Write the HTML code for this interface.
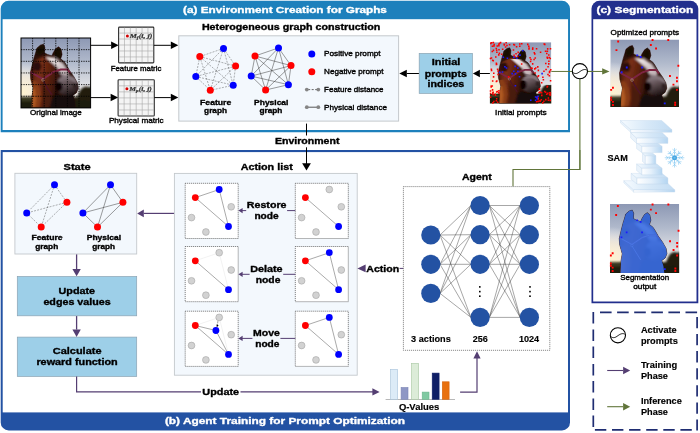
<!DOCTYPE html>
<html><head><meta charset="utf-8"><title>Figure</title>
<style>
html,body{margin:0;padding:0;background:#fff;}
body{width:700px;height:433px;overflow:hidden;}
svg{display:block;font-family:"Liberation Sans",sans-serif;}
.sf{font-family:"Liberation Serif",serif;}
</style></head><body>
<svg width="700" height="433" viewBox="0 0 700 433">
<defs>
<linearGradient id="sky" x1="0" y1="0" x2="0" y2="1">
<stop offset="0" stop-color="#8d98b4"/><stop offset="0.35" stop-color="#b1bacc"/><stop offset="0.65" stop-color="#dcdde2"/><stop offset="0.85" stop-color="#efe9e2"/>
</linearGradient>
<radialGradient id="sun" cx="0.02" cy="0.78" r="0.45">
<stop offset="0" stop-color="#fff3cf" stop-opacity="1"/><stop offset="0.5" stop-color="#fbeed8" stop-opacity="0.7"/><stop offset="1" stop-color="#fff" stop-opacity="0"/>
</radialGradient>
<linearGradient id="hb" x1="0" y1="0" x2="1" y2="0.3">
<stop offset="0" stop-color="#42160a"/><stop offset="0.32" stop-color="#7a3015"/><stop offset="0.62" stop-color="#581f0e"/><stop offset="1" stop-color="#220e09"/>
</linearGradient>
<linearGradient id="mz" x1="0.2" y1="0" x2="0.6" y2="1">
<stop offset="0" stop-color="#90828a"/><stop offset="0.45" stop-color="#605054"/><stop offset="1" stop-color="#1c1212"/>
</linearGradient>
<linearGradient id="bl" x1="0" y1="0" x2="1" y2="1">
<stop offset="0" stop-color="#f4eeee"/><stop offset="1" stop-color="#b9a9ad"/>
</linearGradient>
<linearGradient id="sam" x1="0" y1="0" x2="1" y2="0">
<stop offset="0" stop-color="#ffffff"/><stop offset="0.45" stop-color="#e4f0fb"/><stop offset="1" stop-color="#b4d5f1"/>
</linearGradient>
<linearGradient id="samt" x1="0" y1="0" x2="1" y2="0">
<stop offset="0" stop-color="#f6fbff"/><stop offset="0.5" stop-color="#d8e9f8"/><stop offset="1" stop-color="#c2dcf3"/>
</linearGradient>
<filter id="b1" x="-5%" y="-5%" width="110%" height="110%"><feGaussianBlur stdDeviation="1.3"/></filter>
<path id="hsil" d="M15.2,100 L16,82 L17.7,72 L14,59 L13.4,50 L16,38.8 L19,27.3 L21,21 L22.8,14.5 L27.8,10.2 L32.2,8.9 L34.2,13.3 L33.7,21 L38,23.5 L44.3,25.5 L46.3,21 L49.9,15.3 L53.9,12.5 L57.5,15.8 L59,23.5 L57,29.8 L62,33.7 L64.6,37.5 L69.6,46.4 L76,55.4 L81,64.3 L82.3,72 L79.7,78.3 L74.7,82 L77.2,89.8 L78.5,100 Z"/>
<clipPath id="hclip"><use href="#hsil"/></clipPath>
<clipPath id="cp"><rect x="0" y="0" width="100" height="100"/></clipPath>

<symbol id="horse" viewBox="0 0 100 100" preserveAspectRatio="none">
<g clip-path="url(#cp)">
<rect width="100" height="100" fill="url(#sky)"/>
<rect width="100" height="100" fill="url(#sun)"/>
<g filter="url(#b1)">
<path d="M-3,84.5 L20,84 L40,85 L60,85.5 L81,84 L84.5,76 L88,71.5 L93,69.5 L98,70.5 L103,69 L103,103 L-3,103 Z" fill="#211d10"/>
<path d="M-3,91 L103,90 L103,103 L-3,103Z" fill="#1a1c0c"/>
<path d="M-3,86 L16,85.5 L16,90 L-3,90Z" fill="#3a3a20"/>
</g>
<use href="#hsil" fill="#2c110a" stroke="#2c110a" stroke-width="0.8" stroke-linejoin="round"/>
<g clip-path="url(#hclip)"><g filter="url(#b1)">
<path d="M20,32 L36,25 L47,28 L56,38 L62,50 L58,60 L50,72 L46,84 L36,92 L30,100 L17,100 L18,72 L15,56 L16,42 Z" fill="url(#hb)"/>
<path d="M14,62 L21,61 L27,72 L29,86 L26,100 L14,100 L15.5,74 Z" fill="#8a3c14"/>
<path d="M14,72 L19.5,72 L22,86 L20,100 L14,100 Z" fill="#b05a24"/>
<path d="M21,22 L23,15 L28,10.5 L32,9.5 L33.5,14 L33,21 L27,25Z" fill="#170906"/>
<path d="M46.5,23 L50,15.8 L54,13 L57,16 L58.5,23.5 L56.5,30 L50,28Z" fill="#170906"/>
<path d="M18,36 L26,33 L30,40 L27,48 L17,46Z" fill="#2a100a"/>
<path d="M35.4,27.3 L48.1,28 L60,36.2 L69.1,47.7 L67.6,54.6 L57,51.5 L52.4,42.6 L43,34.2 Z" fill="url(#bl)"/>
<path d="M57,30 L62,34 L65,38 L70,47 L66,45 L60,36Z" fill="#3a2420"/>
<ellipse cx="67" cy="68" rx="15.5" ry="15" fill="url(#mz)"/>
<path d="M57,51 L68,54 L76,56 L82,66 L70,59 L60,59Z" fill="#84767c"/>
<ellipse cx="54.5" cy="69.5" rx="5.2" ry="6.8" fill="#080505"/>
<ellipse cx="77.5" cy="68" rx="2.6" ry="4" fill="#2a1e1e"/>
<path d="M50,80 L62,83.5 L76,81 L80,77 L80,100 L42,100 L44,88Z" fill="#150a07"/>
<path d="M30,62 L40,80 L44,88 L40,100 L30,100 L31,84Z" fill="#4a1c0e"/>
</g>
<path d="M13,48.5 L31.6,58.7 L46.8,48.5 L57,45.2 L67.1,45.2 L70.9,50.3" fill="none" stroke="#7d2442" stroke-width="2.9"/>
<path d="M31.6,60.5 L38,72 L44.3,81" fill="none" stroke="#4c1428" stroke-width="2"/>
</g>
<circle cx="31.6" cy="60" r="1.9" fill="none" stroke="#b8a888" stroke-width="0.8"/>
</g>
</symbol>
<symbol id="act" viewBox="-10 -10 20 20" overflow="visible">
<circle cx="0" cy="0" r="7.6" fill="#fff" stroke="#000" stroke-width="1.1"/>
<path d="M-7.5,1 C-4.5,3.4 -2.5,2.2 0,0.4 C2.5,-1.4 5,-2.6 7.5,-0.8" fill="none" stroke="#000" stroke-width="0.9"/>
</symbol>
</defs>
<rect width="700" height="433" fill="#fff"/>

<path d="M0.7,132.2 V8.8 A8,8 0 0 1 8.7,0.8 H562 A8,8 0 0 1 570,8.8 V132.2 Z" fill="#1d80bc"/>
<rect x="2.6" y="19.2" width="565.45" height="110.8" fill="#fff"/>
<text x="183.1" y="12.9" font-size="9.6" font-weight="700" fill="#fff" stroke="#fff" stroke-width="0.35" stroke-linejoin="round" textLength="203.8" lengthAdjust="spacingAndGlyphs" >(a) Environment Creation for Graphs</text>
<text x="201.9" y="30.4" font-size="9.2" font-weight="700" fill="#000" stroke="#000" stroke-width="0.35" stroke-linejoin="round" textLength="178.4" lengthAdjust="spacingAndGlyphs" >Heterogeneous graph construction</text>
<use href="#horse" x="21" y="38" width="69.6" height="69.9"/>
<path d="M32.60,38 V107.9 M21,49.65 H90.6 M44.20,38 V107.9 M21,61.30 H90.6 M55.80,38 V107.9 M21,72.95 H90.6 M67.40,38 V107.9 M21,84.60 H90.6 M79.00,38 V107.9 M21,96.25 H90.6" stroke="#000" stroke-width="0.85" stroke-dasharray="1.3 1.1" fill="none"/>
<rect x="21" y="38" width="69.6" height="69.9" fill="none" stroke="#000" stroke-width="1"/>
<text x="30.0" y="115.0" font-size="8"  fill="#000" stroke="#000" stroke-width="0.38" stroke-linejoin="round" textLength="51.8" lengthAdjust="spacingAndGlyphs" >Original image</text>
<path d="M90.6,45.3 L111.1,45.3" stroke="#000" stroke-width="1.0" fill="none"/>
<path d="M118.6,45.3 L111.1,49.0 L111.1,41.5Z" fill="#000"/>
<path d="M90.6,97.6 L110.6,97.6" stroke="#000" stroke-width="1.0" fill="none"/>
<path d="M118.1,97.6 L110.6,101.3 L110.6,93.8Z" fill="#000"/>
<rect x="118.6" y="27.1" width="35.2" height="35.8" rx="0.8" fill="#f4f4f4" stroke="#2e2e2e" stroke-width="1.1"/>
<path d="M124.47,27.6 V62.4 M119.1,33.07 H153.3 M130.33,27.6 V62.4 M119.1,39.03 H153.3 M136.20,27.6 V62.4 M119.1,45.00 H153.3 M142.07,27.6 V62.4 M119.1,50.97 H153.3 M147.93,27.6 V62.4 M119.1,56.93 H153.3" stroke="#a6a6a6" stroke-width="0.6" fill="none"/>
<circle cx="127.39999999999999" cy="36.1" r="1.5" fill="#d40000"/>
<text class="sf" x="129.79999999999998" y="37.900000000000006" font-size="6.5" font-weight="700" font-style="italic" fill="#333" stroke="#333" stroke-width="0.2" textLength="22.6" lengthAdjust="spacingAndGlyphs">M<tspan font-size="4.4" dy="1.3">f</tspan><tspan dy="-1.3">(i, j)</tspan></text>
<rect x="118.1" y="79.8" width="36.2" height="36.2" rx="0.8" fill="#f4f4f4" stroke="#2e2e2e" stroke-width="1.1"/>
<path d="M124.13,80.3 V115.5 M118.6,85.83 H153.8 M130.17,80.3 V115.5 M118.6,91.87 H153.8 M136.20,80.3 V115.5 M118.6,97.90 H153.8 M142.23,80.3 V115.5 M118.6,103.93 H153.8 M148.27,80.3 V115.5 M118.6,109.97 H153.8" stroke="#a6a6a6" stroke-width="0.6" fill="none"/>
<circle cx="126.89999999999999" cy="88.8" r="1.5" fill="#d40000"/>
<text class="sf" x="129.29999999999998" y="90.6" font-size="6.5" font-weight="700" font-style="italic" fill="#333" stroke="#333" stroke-width="0.2" textLength="22.6" lengthAdjust="spacingAndGlyphs">M<tspan font-size="4.4" dy="1.3">p</tspan><tspan dy="-1.3">(i, j)</tspan></text>
<path d="M153.8,45.3 L170.8,45.3" stroke="#000" stroke-width="1.0" fill="none"/>
<path d="M178.3,45.3 L170.8,49.0 L170.8,41.5Z" fill="#000"/>
<path d="M154.3,97.6 L170.8,97.6" stroke="#000" stroke-width="1.0" fill="none"/>
<path d="M178.3,97.6 L170.8,101.3 L170.8,93.8Z" fill="#000"/>
<text x="110.7" y="71.0" font-size="8"  fill="#000" stroke="#000" stroke-width="0.38" stroke-linejoin="round" textLength="50.7" lengthAdjust="spacingAndGlyphs" >Feature matric</text>
<text x="108.9" y="123.4" font-size="8"  fill="#000" stroke="#000" stroke-width="0.38" stroke-linejoin="round" textLength="54.7" lengthAdjust="spacingAndGlyphs" >Physical matric</text>
<rect x="178.8" y="35.8" width="219.8" height="85.3" fill="#f3f8fd" stroke="#c4c8cc" stroke-width="1"/>
<path d="M223.5,48.4 L199.8,56.6 M223.5,48.4 L235.6,66.1 M223.5,48.4 L195.8,76.5 M223.5,48.4 L233.2,85.2 M223.5,48.4 L210.3,90.3 M199.8,56.6 L235.6,66.1 M199.8,56.6 L195.8,76.5 M199.8,56.6 L233.2,85.2 M199.8,56.6 L210.3,90.3 M235.6,66.1 L195.8,76.5 M235.6,66.1 L233.2,85.2 M235.6,66.1 L210.3,90.3 M195.8,76.5 L233.2,85.2 M195.8,76.5 L210.3,90.3 M233.2,85.2 L210.3,90.3" stroke="#3a3a3a" stroke-width="0.4" fill="none" stroke-dasharray="2 1.2"/>
<circle cx="223.5" cy="48.4" r="3.5" fill="#0000ff"/>
<circle cx="199.8" cy="56.6" r="3.5" fill="#ff0000"/>
<circle cx="235.6" cy="66.1" r="3.5" fill="#ff0000"/>
<circle cx="195.8" cy="76.5" r="3.5" fill="#0000ff"/>
<circle cx="233.2" cy="85.2" r="3.5" fill="#0000ff"/>
<circle cx="210.3" cy="90.3" r="3.5" fill="#ff0000"/>
<path d="M278.5,47.9 L255.0,56.0 M278.5,47.9 L291.0,65.6 M278.5,47.9 L251.2,76.1 M278.5,47.9 L288.4,84.7 M278.5,47.9 L265.6,90.0 M255.0,56.0 L291.0,65.6 M255.0,56.0 L251.2,76.1 M255.0,56.0 L288.4,84.7 M255.0,56.0 L265.6,90.0 M291.0,65.6 L251.2,76.1 M291.0,65.6 L288.4,84.7 M291.0,65.6 L265.6,90.0 M251.2,76.1 L288.4,84.7 M251.2,76.1 L265.6,90.0 M288.4,84.7 L265.6,90.0" stroke="#3a3a3a" stroke-width="0.5" fill="none"/>
<circle cx="278.5" cy="47.9" r="3.5" fill="#0000ff"/>
<circle cx="255.0" cy="56.0" r="3.5" fill="#ff0000"/>
<circle cx="291.0" cy="65.6" r="3.5" fill="#ff0000"/>
<circle cx="251.2" cy="76.1" r="3.5" fill="#0000ff"/>
<circle cx="288.4" cy="84.7" r="3.5" fill="#0000ff"/>
<circle cx="265.6" cy="90.0" r="3.5" fill="#ff0000"/>
<text x="200.1" y="105.2" font-size="8" font-weight="700" fill="#000" stroke="#000" stroke-width="0.35" stroke-linejoin="round" textLength="31.2" lengthAdjust="spacingAndGlyphs" >Feature</text>
<text x="204.1" y="113.4" font-size="8" font-weight="700" fill="#000" stroke="#000" stroke-width="0.35" stroke-linejoin="round" textLength="22.9" lengthAdjust="spacingAndGlyphs" >graph</text>
<text x="254.1" y="105.2" font-size="8" font-weight="700" fill="#000" stroke="#000" stroke-width="0.35" stroke-linejoin="round" textLength="34.3" lengthAdjust="spacingAndGlyphs" >Physical</text>
<text x="259.5" y="113.4" font-size="8" font-weight="700" fill="#000" stroke="#000" stroke-width="0.35" stroke-linejoin="round" textLength="22.9" lengthAdjust="spacingAndGlyphs" >graph</text>
<circle cx="311.8" cy="54.1" r="3.5" fill="#0000ff"/>
<circle cx="311.8" cy="71.8" r="3.5" fill="#ff0000"/>
<path d="M307,89.6 H318" stroke="#555" stroke-width="0.9" stroke-dasharray="2 1.5" stroke-dashoffset="-1.2" fill="none"/>
<circle cx="306.8" cy="89.6" r="1.9" fill="#858585"/><circle cx="318.3" cy="89.6" r="1.9" fill="#858585"/>
<path d="M307,107.2 H318" stroke="#444" stroke-width="0.9" fill="none"/>
<circle cx="306.8" cy="107.2" r="1.9" fill="#858585"/><circle cx="318.3" cy="107.2" r="1.9" fill="#858585"/>
<text x="324.1" y="56.3" font-size="8"  fill="#000" stroke="#000" stroke-width="0.38" stroke-linejoin="round" textLength="56.5" lengthAdjust="spacingAndGlyphs" >Positive prompt</text>
<text x="324.1" y="74.1" font-size="8"  fill="#000" stroke="#000" stroke-width="0.38" stroke-linejoin="round" textLength="59.4" lengthAdjust="spacingAndGlyphs" >Negative prompt</text>
<text x="324.1" y="91.7" font-size="8"  fill="#000" stroke="#000" stroke-width="0.38" stroke-linejoin="round" textLength="59.4" lengthAdjust="spacingAndGlyphs" >Feature distance</text>
<text x="324.1" y="109.6" font-size="8"  fill="#000" stroke="#000" stroke-width="0.38" stroke-linejoin="round" textLength="62.9" lengthAdjust="spacingAndGlyphs" >Physical distance</text>
<path d="M419.2,73.5 L406.8,73.5" stroke="#000" stroke-width="1.0" fill="none"/>
<path d="M399.3,73.5 L406.8,69.8 L406.8,77.2Z" fill="#000"/>
<path d="M489.9,73.5 L479.9,73.5" stroke="#000" stroke-width="1.0" fill="none"/>
<path d="M472.9,73.5 L479.9,69.8 L479.9,77.2Z" fill="#000"/>
<rect x="419.2" y="53.4" width="53.2" height="40" fill="#9dcfe8" stroke="#8aa3b3" stroke-width="0.7"/>
<text x="431.7" y="65.2" font-size="9" font-weight="700" fill="#000" stroke="#000" stroke-width="0.35" stroke-linejoin="round" textLength="28.6" lengthAdjust="spacingAndGlyphs" >Initial</text>
<text x="424.8" y="76.5" font-size="9" font-weight="700" fill="#000" stroke="#000" stroke-width="0.35" stroke-linejoin="round" textLength="42.1" lengthAdjust="spacingAndGlyphs" >prompts</text>
<text x="427.6" y="87.4" font-size="9" font-weight="700" fill="#000" stroke="#000" stroke-width="0.35" stroke-linejoin="round" textLength="36.7" lengthAdjust="spacingAndGlyphs" >indices</text>
<use href="#horse" x="489.9" y="42.2" width="61.4" height="61.2"/>
<path d="M493.0,72.5h1.55v1.55h-1.55zM515.8,46.0h1.55v1.55h-1.55zM492.3,93.7h1.55v1.55h-1.55zM498.2,48.9h1.55v1.55h-1.55zM493.2,45.3h1.55v1.55h-1.55zM540.5,99.0h1.55v1.55h-1.55zM490.8,69.7h1.55v1.55h-1.55zM496.5,45.3h1.55v1.55h-1.55zM498.6,52.4h1.55v1.55h-1.55zM505.4,42.0h1.55v1.55h-1.55zM528.0,45.5h1.55v1.55h-1.55zM492.6,41.7h1.55v1.55h-1.55zM495.6,63.8h1.55v1.55h-1.55zM542.6,78.9h1.55v1.55h-1.55zM495.6,62.5h1.55v1.55h-1.55zM539.8,51.5h1.55v1.55h-1.55zM547.2,73.7h1.55v1.55h-1.55zM548.9,94.0h1.55v1.55h-1.55zM520.9,63.3h1.55v1.55h-1.55zM549.5,99.6h1.55v1.55h-1.55zM533.5,52.0h1.55v1.55h-1.55zM490.6,68.4h1.55v1.55h-1.55zM489.7,90.2h1.55v1.55h-1.55zM546.7,57.5h1.55v1.55h-1.55zM546.8,92.6h1.55v1.55h-1.55zM496.8,68.5h1.55v1.55h-1.55zM537.1,96.1h1.55v1.55h-1.55zM543.1,100.4h1.55v1.55h-1.55zM547.3,65.9h1.55v1.55h-1.55zM549.6,92.2h1.55v1.55h-1.55zM537.4,100.6h1.55v1.55h-1.55zM544.8,91.4h1.55v1.55h-1.55zM532.0,47.2h1.55v1.55h-1.55zM531.3,67.5h1.55v1.55h-1.55zM494.5,93.6h1.55v1.55h-1.55zM497.3,73.7h1.55v1.55h-1.55zM496.1,51.5h1.55v1.55h-1.55zM490.4,86.1h1.55v1.55h-1.55zM495.9,91.3h1.55v1.55h-1.55zM492.7,49.6h1.55v1.55h-1.55zM534.5,57.2h1.55v1.55h-1.55zM530.2,58.8h1.55v1.55h-1.55zM548.6,74.9h1.55v1.55h-1.55zM548.1,60.5h1.55v1.55h-1.55zM489.7,57.7h1.55v1.55h-1.55zM513.7,44.3h1.55v1.55h-1.55zM538.3,91.8h1.55v1.55h-1.55zM503.4,43.6h1.55v1.55h-1.55zM504.8,46.2h1.55v1.55h-1.55zM548.7,71.7h1.55v1.55h-1.55zM507.9,76.1h1.55v1.55h-1.55zM539.3,100.4h1.55v1.55h-1.55zM519.0,43.2h1.55v1.55h-1.55zM506.2,44.7h1.55v1.55h-1.55zM545.0,98.7h1.55v1.55h-1.55zM497.2,70.3h1.55v1.55h-1.55zM550.0,69.0h1.55v1.55h-1.55zM495.0,56.2h1.55v1.55h-1.55zM541.0,94.6h1.55v1.55h-1.55zM548.5,56.8h1.55v1.55h-1.55zM546.7,85.5h1.55v1.55h-1.55zM491.8,89.1h1.55v1.55h-1.55zM531.9,48.5h1.55v1.55h-1.55zM543.2,70.5h1.55v1.55h-1.55zM530.4,67.2h1.55v1.55h-1.55zM534.4,72.3h1.55v1.55h-1.55zM498.1,44.9h1.55v1.55h-1.55zM499.7,41.9h1.55v1.55h-1.55zM548.0,54.3h1.55v1.55h-1.55zM539.4,91.5h1.55v1.55h-1.55zM544.0,43.6h1.55v1.55h-1.55zM538.8,88.2h1.55v1.55h-1.55zM491.6,45.5h1.55v1.55h-1.55zM547.6,99.5h1.55v1.55h-1.55zM493.4,43.8h1.55v1.55h-1.55zM549.5,57.8h1.55v1.55h-1.55zM540.9,82.0h1.55v1.55h-1.55zM549.7,47.9h1.55v1.55h-1.55zM491.9,59.5h1.55v1.55h-1.55zM546.9,48.1h1.55v1.55h-1.55zM498.0,54.1h1.55v1.55h-1.55zM537.8,74.9h1.55v1.55h-1.55zM528.3,47.3h1.55v1.55h-1.55zM542.0,102.1h1.55v1.55h-1.55zM489.8,96.4h1.55v1.55h-1.55zM517.4,51.6h1.55v1.55h-1.55zM548.7,71.0h1.55v1.55h-1.55zM540.9,92.0h1.55v1.55h-1.55zM512.7,49.2h1.55v1.55h-1.55zM495.9,49.5h1.55v1.55h-1.55zM491.9,80.3h1.55v1.55h-1.55zM547.6,97.2h1.55v1.55h-1.55zM537.4,98.1h1.55v1.55h-1.55zM508.8,44.0h1.55v1.55h-1.55zM549.8,79.9h1.55v1.55h-1.55zM492.4,91.4h1.55v1.55h-1.55zM529.8,60.7h1.55v1.55h-1.55zM491.5,50.8h1.55v1.55h-1.55zM490.8,41.9h1.55v1.55h-1.55zM495.9,63.4h1.55v1.55h-1.55zM546.4,56.5h1.55v1.55h-1.55zM537.0,66.1h1.55v1.55h-1.55zM546.4,86.2h1.55v1.55h-1.55zM514.1,56.1h1.55v1.55h-1.55zM546.6,50.4h1.55v1.55h-1.55zM516.9,55.4h1.55v1.55h-1.55zM503.6,44.1h1.55v1.55h-1.55zM544.8,50.5h1.55v1.55h-1.55zM495.9,98.0h1.55v1.55h-1.55zM498.1,43.5h1.55v1.55h-1.55zM545.0,98.9h1.55v1.55h-1.55zM501.9,48.5h1.55v1.55h-1.55zM495.5,47.7h1.55v1.55h-1.55zM490.7,57.3h1.55v1.55h-1.55zM527.0,43.6h1.55v1.55h-1.55zM499.8,41.8h1.55v1.55h-1.55zM535.8,101.0h1.55v1.55h-1.55zM496.1,80.3h1.55v1.55h-1.55zM543.4,43.3h1.55v1.55h-1.55zM495.6,100.0h1.55v1.55h-1.55zM534.0,68.1h1.55v1.55h-1.55zM528.2,48.2h1.55v1.55h-1.55zM513.0,43.8h1.55v1.55h-1.55zM535.0,67.2h1.55v1.55h-1.55zM546.0,52.8h1.55v1.55h-1.55zM496.9,101.4h1.55v1.55h-1.55zM531.9,63.1h1.55v1.55h-1.55zM513.3,54.6h1.55v1.55h-1.55zM548.0,63.1h1.55v1.55h-1.55zM539.2,91.2h1.55v1.55h-1.55zM515.3,53.0h1.55v1.55h-1.55zM533.3,58.8h1.55v1.55h-1.55zM545.9,93.5h1.55v1.55h-1.55zM498.0,92.1h1.55v1.55h-1.55zM529.3,56.9h1.55v1.55h-1.55zM489.8,92.7h1.55v1.55h-1.55zM491.5,85.2h1.55v1.55h-1.55zM492.5,59.9h1.55v1.55h-1.55zM535.8,47.9h1.55v1.55h-1.55zM537.2,75.8h1.55v1.55h-1.55zM492.8,76.1h1.55v1.55h-1.55zM496.7,90.8h1.55v1.55h-1.55zM545.3,68.8h1.55v1.55h-1.55zM549.0,70.5h1.55v1.55h-1.55zM495.6,80.8h1.55v1.55h-1.55zM498.7,42.7h1.55v1.55h-1.55zM494.8,94.4h1.55v1.55h-1.55zM490.5,85.3h1.55v1.55h-1.55zM534.0,53.1h1.55v1.55h-1.55zM490.1,42.6h1.55v1.55h-1.55zM519.0,45.4h1.55v1.55h-1.55zM498.2,90.0h1.55v1.55h-1.55zM493.1,100.7h1.55v1.55h-1.55zM548.8,92.1h1.55v1.55h-1.55zM543.9,90.7h1.55v1.55h-1.55zM492.0,92.2h1.55v1.55h-1.55zM542.1,76.4h1.55v1.55h-1.55zM545.0,62.7h1.55v1.55h-1.55zM537.6,69.6h1.55v1.55h-1.55zM538.5,88.5h1.55v1.55h-1.55zM500.9,53.4h1.55v1.55h-1.55zM492.1,102.1h1.55v1.55h-1.55zM521.0,43.0h1.55v1.55h-1.55zM549.6,94.2h1.55v1.55h-1.55zM539.2,100.1h1.55v1.55h-1.55z" fill="#ff0000"/>
<path d="M521.9,49.9h1.6v1.6h-1.6zM502.5,56.4h1.6v1.6h-1.6zM506.6,57.5h1.6v1.6h-1.6zM513.0,56.4h1.6v1.6h-1.6zM516.2,57.5h1.6v1.6h-1.6zM519.2,54.3h1.6v1.6h-1.6zM504.1,66.0h1.6v1.6h-1.6zM505.7,67.2h1.6v1.6h-1.6zM514.3,65.6h1.6v1.6h-1.6zM517.1,67.2h1.6v1.6h-1.6zM499.0,71.5h1.6v1.6h-1.6zM501.7,71.2h1.6v1.6h-1.6zM513.0,70.4h1.6v1.6h-1.6zM517.1,70.4h1.6v1.6h-1.6zM511.4,72.8h1.6v1.6h-1.6zM514.6,73.1h1.6v1.6h-1.6zM518.7,76.0h1.6v1.6h-1.6zM514.6,84.9h1.6v1.6h-1.6zM541.3,72.8h1.6v1.6h-1.6zM534.8,96.2h1.6v1.6h-1.6zM536.4,97.8h1.6v1.6h-1.6zM534.8,99.4h1.6v1.6h-1.6zM530.0,99.4h1.6v1.6h-1.6zM537.3,95.4h1.6v1.6h-1.6zM536.1,96.6h1.6v1.6h-1.6z" fill="#1a1aff"/>
<text x="495.1" y="114.8" font-size="8"  fill="#000" stroke="#000" stroke-width="0.38" stroke-linejoin="round" textLength="51.6" lengthAdjust="spacingAndGlyphs" >Initial prompts</text>
<path d="M306.5,123.6 V135.5" stroke="#000" stroke-width="1" fill="none"/>
<text x="275.0" y="143.8" font-size="9.2" font-weight="700" fill="#000" stroke="#000" stroke-width="0.35" stroke-linejoin="round" textLength="64.4" lengthAdjust="spacingAndGlyphs" >Environment</text>
<path d="M551.3,71.45 H602.5" stroke="#61753a" stroke-width="1" fill="none"/>
<path d="M579.9,71.2 V169.5 H513 V186.6" stroke="#61753a" stroke-width="1.1" fill="none"/>
<path d="M0.7,150.1 H570 V422.4 A8,8 0 0 1 562,430.4 H8.7 A8,8 0 0 1 0.7,422.4 Z" fill="#2352a3"/>
<rect x="2.7" y="152.1" width="565.3" height="260.3" fill="#fff"/>
<text x="164.9" y="424.2" font-size="9.6" font-weight="700" fill="#fff" stroke="#fff" stroke-width="0.35" stroke-linejoin="round" textLength="240.2" lengthAdjust="spacingAndGlyphs" >(b) Agent Training for Prompt Optimization</text>
<path d="M579.9,150 V169.5 H513 V186.6" stroke="#61753a" stroke-width="1.1" fill="none"/>
<path d="M306.5,147.3 V164" stroke="#000" stroke-width="1" fill="none"/>
<path d="M306.5,170.4 L302.1,163.2 L310.9,163.2Z" fill="#000"/>
<text x="63.5" y="170.3" font-size="9.2" font-weight="700" fill="#000" stroke="#000" stroke-width="0.35" stroke-linejoin="round" textLength="27.1" lengthAdjust="spacingAndGlyphs" >State</text>
<rect x="14.9" y="173.3" width="121.8" height="80.7" fill="#f3f8fd" stroke="#c4c8cc" stroke-width="0.9"/>
<path d="M54.5,184.8 L66.9,202.3 M54.5,184.8 L26.7,213.0 M54.5,184.8 L41.2,227.1 M66.9,202.3 L26.7,213.0 M66.9,202.3 L41.2,227.1 M26.7,213.0 L41.2,227.1" stroke="#3a3a3a" stroke-width="0.4" fill="none" stroke-dasharray="2 1.2"/>
<circle cx="54.5" cy="184.8" r="3.5" fill="#0000ff"/>
<circle cx="66.9" cy="202.3" r="3.5" fill="#ff0000"/>
<circle cx="26.7" cy="213.0" r="3.5" fill="#0000ff"/>
<circle cx="41.2" cy="227.1" r="3.5" fill="#ff0000"/>
<path d="M110.5,184.8 L122.9,202.3 M110.5,184.8 L82.9,213.0 M110.5,184.8 L97.5,227.1 M122.9,202.3 L82.9,213.0 M122.9,202.3 L97.5,227.1 M82.9,213.0 L97.5,227.1" stroke="#3a3a3a" stroke-width="0.5" fill="none"/>
<circle cx="110.5" cy="184.8" r="3.5" fill="#0000ff"/>
<circle cx="122.9" cy="202.3" r="3.5" fill="#ff0000"/>
<circle cx="82.9" cy="213.0" r="3.5" fill="#0000ff"/>
<circle cx="97.5" cy="227.1" r="3.5" fill="#ff0000"/>
<text x="31.5" y="240.1" font-size="7.4" font-weight="700" fill="#000" stroke="#000" stroke-width="0.35" stroke-linejoin="round" textLength="31.0" lengthAdjust="spacingAndGlyphs" >Feature</text>
<text x="35.2" y="248.7" font-size="7.4" font-weight="700" fill="#000" stroke="#000" stroke-width="0.35" stroke-linejoin="round" textLength="23.0" lengthAdjust="spacingAndGlyphs" >graph</text>
<text x="86.8" y="240.1" font-size="7.4" font-weight="700" fill="#000" stroke="#000" stroke-width="0.35" stroke-linejoin="round" textLength="34.3" lengthAdjust="spacingAndGlyphs" >Physical</text>
<text x="92.2" y="248.7" font-size="7.4" font-weight="700" fill="#000" stroke="#000" stroke-width="0.35" stroke-linejoin="round" textLength="22.8" lengthAdjust="spacingAndGlyphs" >graph</text>
<path d="M174.5,213.4 L143.8,213.4" stroke="#543e72" stroke-width="1.2" fill="none"/>
<path d="M137.2,213.4 L143.8,209.5 L143.8,217.3Z" fill="#543e72"/>
<path d="M76.6,254.4 L76.6,269.0" stroke="#543e72" stroke-width="1.3" fill="none"/>
<path d="M76.6,276.3 L72.4,269.0 L80.8,269.0Z" fill="#543e72"/>
<path d="M76.6,316.0 L76.6,329.6" stroke="#543e72" stroke-width="1.3" fill="none"/>
<path d="M76.6,336.9 L72.4,329.6 L80.8,329.6Z" fill="#543e72"/>
<rect x="17.3" y="276.5" width="119.4" height="39.3" fill="#9dcfe8" stroke="#8aa3b3" stroke-width="0.7"/>
<rect x="17.3" y="337.1" width="119.4" height="39.3" fill="#9dcfe8" stroke="#8aa3b3" stroke-width="0.7"/>
<text x="58.6" y="294.0" font-size="9.2" font-weight="700" fill="#000" stroke="#000" stroke-width="0.35" stroke-linejoin="round" textLength="36.5" lengthAdjust="spacingAndGlyphs" >Update</text>
<text x="43.4" y="304.8" font-size="9.2" font-weight="700" fill="#000" stroke="#000" stroke-width="0.35" stroke-linejoin="round" textLength="67.3" lengthAdjust="spacingAndGlyphs" >edges values</text>
<text x="52.8" y="354.2" font-size="9.2" font-weight="700" fill="#000" stroke="#000" stroke-width="0.35" stroke-linejoin="round" textLength="48.7" lengthAdjust="spacingAndGlyphs" >Calculate</text>
<text x="36.4" y="365.4" font-size="9.2" font-weight="700" fill="#000" stroke="#000" stroke-width="0.35" stroke-linejoin="round" textLength="81.3" lengthAdjust="spacingAndGlyphs" >reward function</text>
<path d="M76.6,376.6 V391.9 H373" stroke="#543e72" stroke-width="1.2" fill="none"/>
<path d="M379.6,391.9 L372.4,388.2 L372.4,395.6Z" fill="#543e72"/>
<rect x="201" y="386" width="39.5" height="11" fill="#fff"/>
<text x="202.3" y="395.0" font-size="9.2" font-weight="700" fill="#000" stroke="#000" stroke-width="0.35" stroke-linejoin="round" textLength="36.8" lengthAdjust="spacingAndGlyphs" >Update</text>
<text x="240.7" y="169.7" font-size="9.2" font-weight="700" fill="#000" stroke="#000" stroke-width="0.35" stroke-linejoin="round" textLength="52.1" lengthAdjust="spacingAndGlyphs" >Action list</text>
<rect x="174.4" y="173.4" width="182.8" height="201.8" fill="#f3f8fd" stroke="#c4c8cc" stroke-width="0.9"/>
<rect x="185.2" y="183.3" width="53" height="55.2" fill="#fff" stroke="#333" stroke-width="0.7" stroke-dasharray="1 1"/>
<path d="M195.3,197.6 L219.2,189.5" stroke="#555" stroke-width="0.5" fill="none"/>
<path d="M219.2,189.5 L228.5,226.5" stroke="#555" stroke-width="0.5" fill="none"/>
<path d="M195.3,197.6 L228.5,226.5" stroke="#555" stroke-width="0.5" fill="none"/>
<circle cx="195.3" cy="197.6" r="3.4" fill="#ff0000"/>
<circle cx="219.2" cy="189.5" r="3.4" fill="#0000ff"/>
<circle cx="231.2" cy="206.8" r="3.4" fill="#d2d2d2" stroke="#9a9a9a" stroke-width="0.5"/>
<circle cx="191.5" cy="217.6" r="3.4" fill="#d2d2d2" stroke="#9a9a9a" stroke-width="0.5"/>
<circle cx="205.9" cy="232.0" r="3.4" fill="#d2d2d2" stroke="#9a9a9a" stroke-width="0.5"/>
<circle cx="228.5" cy="226.5" r="3.4" fill="#0000ff"/>
<rect x="295.3" y="183.3" width="53" height="55.2" fill="#fff" stroke="#333" stroke-width="0.7" stroke-dasharray="1 1"/>
<path d="M305.4,197.6 L338.6,226.5" stroke="#555" stroke-width="0.5" fill="none"/>
<circle cx="305.4" cy="197.6" r="3.4" fill="#ff0000"/>
<circle cx="329.3" cy="189.5" r="3.4" fill="#d2d2d2" stroke="#9a9a9a" stroke-width="0.5"/>
<circle cx="341.3" cy="206.8" r="3.4" fill="#d2d2d2" stroke="#9a9a9a" stroke-width="0.5"/>
<circle cx="301.6" cy="217.6" r="3.4" fill="#d2d2d2" stroke="#9a9a9a" stroke-width="0.5"/>
<circle cx="316.0" cy="232.0" r="3.4" fill="#d2d2d2" stroke="#9a9a9a" stroke-width="0.5"/>
<circle cx="338.6" cy="226.5" r="3.4" fill="#0000ff"/>
<rect x="185.2" y="246.5" width="53" height="55.2" fill="#fff" stroke="#333" stroke-width="0.7" stroke-dasharray="1 1"/>
<path d="M195.3,260.8 L219.2,252.7" stroke="#e4e4e4" stroke-width="0.5" fill="none"/>
<path d="M219.2,252.7 L228.5,289.7" stroke="#e4e4e4" stroke-width="0.5" fill="none"/>
<path d="M195.3,260.8 L228.5,289.7" stroke="#555" stroke-width="0.5" fill="none"/>
<circle cx="195.3" cy="260.8" r="3.4" fill="#ff0000"/>
<circle cx="219.2" cy="252.7" r="3.4" fill="#d2d2d2" stroke="#9a9a9a" stroke-width="0.5"/>
<circle cx="231.2" cy="270.0" r="3.4" fill="#d2d2d2" stroke="#9a9a9a" stroke-width="0.5"/>
<circle cx="191.5" cy="280.8" r="3.4" fill="#d2d2d2" stroke="#9a9a9a" stroke-width="0.5"/>
<circle cx="205.9" cy="295.2" r="3.4" fill="#d2d2d2" stroke="#9a9a9a" stroke-width="0.5"/>
<circle cx="228.5" cy="289.7" r="3.4" fill="#0000ff"/>
<rect x="295.3" y="246.5" width="53" height="55.2" fill="#fff" stroke="#333" stroke-width="0.7" stroke-dasharray="1 1"/>
<path d="M305.4,260.8 L329.3,252.7" stroke="#555" stroke-width="0.5" fill="none"/>
<path d="M329.3,252.7 L338.6,289.7" stroke="#555" stroke-width="0.5" fill="none"/>
<path d="M305.4,260.8 L338.6,289.7" stroke="#555" stroke-width="0.5" fill="none"/>
<circle cx="305.4" cy="260.8" r="3.4" fill="#ff0000"/>
<circle cx="329.3" cy="252.7" r="3.4" fill="#0000ff"/>
<circle cx="341.3" cy="270.0" r="3.4" fill="#d2d2d2" stroke="#9a9a9a" stroke-width="0.5"/>
<circle cx="301.6" cy="280.8" r="3.4" fill="#d2d2d2" stroke="#9a9a9a" stroke-width="0.5"/>
<circle cx="316.0" cy="295.2" r="3.4" fill="#d2d2d2" stroke="#9a9a9a" stroke-width="0.5"/>
<circle cx="338.6" cy="289.7" r="3.4" fill="#0000ff"/>
<rect x="185.2" y="311.2" width="53" height="55.2" fill="#fff" stroke="#333" stroke-width="0.7" stroke-dasharray="1 1"/>
<path d="M195.3,325.5 L219.2,317.4" stroke="#e4e4e4" stroke-width="0.5" fill="none"/>
<path d="M219.2,317.4 L228.5,354.4" stroke="#e4e4e4" stroke-width="0.5" fill="none"/>
<path d="M195.3,325.5 L228.5,354.4" stroke="#555" stroke-width="0.5" fill="none"/>
<path d="M195.3,325.5 L215.9,330.5" stroke="#555" stroke-width="0.5" fill="none"/>
<path d="M215.9,330.5 L228.5,354.4" stroke="#555" stroke-width="0.5" fill="none"/>
<path d="M218.0,320.8 L217.1,326.3" stroke="#000" stroke-width="0.6" stroke-dasharray="0.8 0.8"/>
<path d="M216.8,326.9 l-0.3,-2.4 l2.2,0.9z" fill="#000"/>
<circle cx="195.3" cy="325.5" r="3.4" fill="#ff0000"/>
<circle cx="219.2" cy="317.4" r="3.4" fill="#d2d2d2" stroke="#9a9a9a" stroke-width="0.5"/>
<circle cx="231.2" cy="334.7" r="3.4" fill="#d2d2d2" stroke="#9a9a9a" stroke-width="0.5"/>
<circle cx="191.5" cy="345.5" r="3.4" fill="#d2d2d2" stroke="#9a9a9a" stroke-width="0.5"/>
<circle cx="205.9" cy="359.9" r="3.4" fill="#d2d2d2" stroke="#9a9a9a" stroke-width="0.5"/>
<circle cx="228.5" cy="354.4" r="3.4" fill="#0000ff"/>
<circle cx="215.9" cy="330.5" r="3.4" fill="#0000ff"/>
<rect x="295.3" y="311.2" width="53" height="55.2" fill="#fff" stroke="#333" stroke-width="0.7" stroke-dasharray="1 1"/>
<path d="M305.4,325.5 L329.3,317.4" stroke="#555" stroke-width="0.5" fill="none"/>
<path d="M329.3,317.4 L338.6,354.4" stroke="#555" stroke-width="0.5" fill="none"/>
<path d="M305.4,325.5 L338.6,354.4" stroke="#555" stroke-width="0.5" fill="none"/>
<circle cx="305.4" cy="325.5" r="3.4" fill="#ff0000"/>
<circle cx="329.3" cy="317.4" r="3.4" fill="#0000ff"/>
<circle cx="341.3" cy="334.7" r="3.4" fill="#d2d2d2" stroke="#9a9a9a" stroke-width="0.5"/>
<circle cx="301.6" cy="345.5" r="3.4" fill="#d2d2d2" stroke="#9a9a9a" stroke-width="0.5"/>
<circle cx="316.0" cy="359.9" r="3.4" fill="#d2d2d2" stroke="#9a9a9a" stroke-width="0.5"/>
<circle cx="338.6" cy="354.4" r="3.4" fill="#0000ff"/>
<path d="M287.1,210.6 H295.3" stroke="#543e72" stroke-width="1" fill="none"/>
<path d="M242,210.6 H246.2" stroke="#543e72" stroke-width="1" fill="none"/>
<path d="M238.4,210.6 l4.2,-2.6 v5.2z" fill="#543e72"/>
<text x="246.8" y="207.8" font-size="9.2" font-weight="700" fill="#000" stroke="#000" stroke-width="0.35" stroke-linejoin="round" textLength="39.7" lengthAdjust="spacingAndGlyphs" >Restore</text>
<text x="254.4" y="218.9" font-size="9.2" font-weight="700" fill="#000" stroke="#000" stroke-width="0.35" stroke-linejoin="round" textLength="24.3" lengthAdjust="spacingAndGlyphs" >node</text>
<path d="M283.2,274.3 H295.3" stroke="#543e72" stroke-width="1" fill="none"/>
<path d="M242,274.3 H249.6" stroke="#543e72" stroke-width="1" fill="none"/>
<path d="M238.4,274.3 l4.2,-2.6 v5.2z" fill="#543e72"/>
<text x="250.2" y="271.5" font-size="9.2" font-weight="700" fill="#000" stroke="#000" stroke-width="0.35" stroke-linejoin="round" textLength="32.4" lengthAdjust="spacingAndGlyphs" >Delate</text>
<text x="255.7" y="282.6" font-size="9.2" font-weight="700" fill="#000" stroke="#000" stroke-width="0.35" stroke-linejoin="round" textLength="24.7" lengthAdjust="spacingAndGlyphs" >node</text>
<path d="M280.4,338.4 H295.3" stroke="#543e72" stroke-width="1" fill="none"/>
<path d="M242,338.4 H252.4" stroke="#543e72" stroke-width="1" fill="none"/>
<path d="M238.4,338.4 l4.2,-2.6 v5.2z" fill="#543e72"/>
<text x="253.0" y="335.6" font-size="9.2" font-weight="700" fill="#000" stroke="#000" stroke-width="0.35" stroke-linejoin="round" textLength="26.8" lengthAdjust="spacingAndGlyphs" >Move</text>
<text x="255.2" y="346.7" font-size="9.2" font-weight="700" fill="#000" stroke="#000" stroke-width="0.35" stroke-linejoin="round" textLength="24.3" lengthAdjust="spacingAndGlyphs" >node</text>
<path d="M399.6,268.4 H403.5" stroke="#543e72" stroke-width="1" fill="none"/>
<path d="M357.4,268.4 l8.2,-3.9 v7.8z" fill="#543e72"/>
<text x="366.3" y="271.6" font-size="9.2" font-weight="700" fill="#000" stroke="#000" stroke-width="0.35" stroke-linejoin="round" textLength="32.9" lengthAdjust="spacingAndGlyphs" >Action</text>
<text x="461.9" y="180.3" font-size="9.2" font-weight="700" fill="#000" stroke="#000" stroke-width="0.35" stroke-linejoin="round" textLength="29.8" lengthAdjust="spacingAndGlyphs" >Agent</text>
<rect x="403.4" y="186.6" width="146.4" height="163.7" fill="#fff" stroke="#444" stroke-width="0.7" stroke-dasharray="1 1"/>
<path d="M440.0,235.0 L470.9,205.5 M440.0,235.0 L470.9,234.7 M440.0,235.0 L470.9,264.3 M440.0,235.0 L470.9,317.4 M440.0,264.3 L470.9,205.5 M440.0,264.3 L470.9,234.7 M440.0,264.3 L470.9,264.3 M440.0,264.3 L470.9,317.4 M440.0,293.4 L470.9,205.5 M440.0,293.4 L470.9,234.7 M440.0,293.4 L470.9,264.3 M440.0,293.4 L470.9,317.4 M489.3,205.5 L520.2,205.5 M489.3,205.5 L520.2,234.7 M489.3,205.5 L520.2,264.3 M489.3,205.5 L520.2,317.4 M489.3,234.7 L520.2,205.5 M489.3,234.7 L520.2,234.7 M489.3,234.7 L520.2,264.3 M489.3,234.7 L520.2,317.4 M489.3,264.3 L520.2,205.5 M489.3,264.3 L520.2,234.7 M489.3,264.3 L520.2,264.3 M489.3,264.3 L520.2,317.4 M489.3,317.4 L520.2,205.5 M489.3,317.4 L520.2,234.7 M489.3,317.4 L520.2,264.3 M489.3,317.4 L520.2,317.4" stroke="#3a3a3a" stroke-width="0.45" fill="none"/>
<circle cx="430.8" cy="235.0" r="9.6" fill="#2352a3"/>
<circle cx="430.8" cy="264.3" r="9.6" fill="#2352a3"/>
<circle cx="430.8" cy="293.4" r="9.6" fill="#2352a3"/>
<circle cx="480.1" cy="205.5" r="9.6" fill="#2352a3"/>
<circle cx="480.1" cy="234.7" r="9.6" fill="#2352a3"/>
<circle cx="480.1" cy="264.3" r="9.6" fill="#2352a3"/>
<circle cx="480.1" cy="317.4" r="9.6" fill="#2352a3"/>
<circle cx="529.4" cy="205.5" r="9.6" fill="#2352a3"/>
<circle cx="529.4" cy="234.7" r="9.6" fill="#2352a3"/>
<circle cx="529.4" cy="264.3" r="9.6" fill="#2352a3"/>
<circle cx="529.4" cy="317.4" r="9.6" fill="#2352a3"/>
<rect x="479.0" y="286.09999999999997" width="1.6" height="1.6" fill="#000"/>
<rect x="479.0" y="290.8" width="1.6" height="1.6" fill="#000"/>
<rect x="479.0" y="295.4" width="1.6" height="1.6" fill="#000"/>
<rect x="529.2" y="286.09999999999997" width="1.6" height="1.6" fill="#000"/>
<rect x="529.2" y="290.8" width="1.6" height="1.6" fill="#000"/>
<rect x="529.2" y="295.4" width="1.6" height="1.6" fill="#000"/>
<text x="411.1" y="341.9" font-size="9" font-weight="700" fill="#000" stroke="#000" stroke-width="0.15" stroke-linejoin="round" textLength="39.7" lengthAdjust="spacingAndGlyphs" >3 actions</text>
<text x="472.7" y="341.9" font-size="9" font-weight="700" fill="#000" stroke="#000" stroke-width="0.15" stroke-linejoin="round" textLength="15.0" lengthAdjust="spacingAndGlyphs" >256</text>
<text x="518.9" y="341.9" font-size="9" font-weight="700" fill="#000" stroke="#000" stroke-width="0.15" stroke-linejoin="round" textLength="20.3" lengthAdjust="spacingAndGlyphs" >1024</text>
<path d="M385.6,399.5 H455" stroke="#9a9a9a" stroke-width="0.7"/>
<rect x="390.4" y="369.3" width="7.3" height="30.0" fill="#dcebf7" stroke="#a9c3da" stroke-width="0.6"/>
<rect x="401.1" y="387.5" width="6.9" height="11.8" fill="#8e97c5" stroke="#7a84b5" stroke-width="0.6"/>
<rect x="411.4" y="363.3" width="7.3" height="36.0" fill="#dcecd8" stroke="#a9c9a3" stroke-width="0.6"/>
<rect x="422.2" y="392.1" width="6.8" height="7.2" fill="#80c9a2" stroke="#6ab58c" stroke-width="0.6"/>
<rect x="432.2" y="373.1" width="6.9" height="26.2" fill="#0f1f66" stroke="#0f1f66" stroke-width="0.6"/>
<rect x="442.3" y="381.8" width="6.8" height="17.5" fill="#e8710f" stroke="#d4640a" stroke-width="0.6"/>
<text x="398.9" y="409.7" font-size="9" font-weight="700" fill="#000" stroke="#000" stroke-width="0.15" stroke-linejoin="round" textLength="40.4" lengthAdjust="spacingAndGlyphs" >Q-Values</text>
<path d="M460.1,392.1 H477 V358" stroke="#543e72" stroke-width="1.2" fill="none"/>
<path d="M477,351.2 l-3.6,7.2 h7.2z" fill="#543e72"/>
<path d="M591.5,303.3 V8.8 A8,8 0 0 1 599.5,0.8 H690.3 A8,8 0 0 1 698.3,8.8 V303.3 Z" fill="#222f8d"/>
<rect x="593.2" y="19.2" width="103.3" height="282.3" fill="#fff"/>
<text x="596.5" y="12.8" font-size="9.6" font-weight="700" fill="#fff" stroke="#fff" stroke-width="0.35" stroke-linejoin="round" textLength="96.9" lengthAdjust="spacingAndGlyphs" >(c) Segmentation</text>
<text x="610.6" y="35.3" font-size="8"  fill="#000" stroke="#000" stroke-width="0.38" stroke-linejoin="round" textLength="68.4" lengthAdjust="spacingAndGlyphs" >Optimized prompts</text>
<path d="M587.6,71.45 H603" stroke="#61753a" stroke-width="1" fill="none"/>
<path d="M609.5,71.4 l-7.3,-3.2 v6.4z" fill="#61753a"/>
<use href="#act" x="569.9" y="61.2" width="20" height="20"/>
<use href="#horse" x="610.3" y="39.5" width="68.7" height="67.6"/>
<path d="M617.2,40.6h1.9v1.9h-1.9zM615.5,49.2h1.9v1.9h-1.9zM651.6,39.1h1.9v1.9h-1.9zM649.9,44.1h1.9v1.9h-1.9zM655.1,47.5h1.9v1.9h-1.9zM667.3,39.1h1.9v1.9h-1.9zM677.4,64.8h1.9v1.9h-1.9zM669.0,75.1h1.9v1.9h-1.9zM676.0,76.8h1.9v1.9h-1.9zM676.0,80.3h1.9v1.9h-1.9zM672.5,83.7h1.9v1.9h-1.9zM676.0,88.9h1.9v1.9h-1.9zM612.0,86.8h1.9v1.9h-1.9zM610.2,88.9h1.9v1.9h-1.9zM610.2,96.7h1.9v1.9h-1.9zM610.2,99.1h1.9v1.9h-1.9zM612.0,100.9h1.9v1.9h-1.9zM612.0,104.1h1.9v1.9h-1.9zM674.2,101.8h1.9v1.9h-1.9zM674.2,104.1h1.9v1.9h-1.9z" fill="#ff0000"/>
<path d="M636.3,54.4h1.9v1.9h-1.9zM639.8,56.1h1.9v1.9h-1.9zM625.8,66.5h1.9v1.9h-1.9zM641.2,66.5h1.9v1.9h-1.9zM620.7,71.3h1.9v1.9h-1.9zM663.8,102.4h1.9v1.9h-1.9z" fill="#1a1aff"/>
<polygon points="623.8,180.7 633.6,189.9 633.6,192.1 623.8,182.8" fill="#eaf3fb" stroke="#bcd3ea" stroke-width="0.35" stroke-linejoin="round"/>
<polygon points="623.8,180.7 665.0,180.7 674.8,189.9 633.6,189.9" fill="url(#samt)" stroke="#bcd3ea" stroke-width="0.35" stroke-linejoin="round"/>
<polygon points="633.6,189.9 674.8,189.9 674.8,192.1 633.6,192.1" fill="url(#sam)" stroke="#bcd3ea" stroke-width="0.35" stroke-linejoin="round"/>
<polygon points="631.1,173.4 637.0,178.1 637.0,184.0 631.1,179.3" fill="#eaf3fb" stroke="#bcd3ea" stroke-width="0.35" stroke-linejoin="round"/>
<polygon points="631.1,173.4 662.1,173.4 667.9,178.1 637.0,178.1" fill="url(#samt)" stroke="#bcd3ea" stroke-width="0.35" stroke-linejoin="round"/>
<polygon points="637.0,178.1 667.9,178.1 667.9,184.0 637.0,184.0" fill="url(#sam)" stroke="#bcd3ea" stroke-width="0.35" stroke-linejoin="round"/>
<polygon points="636.6,164.0 641.9,168.3 641.9,174.8 636.6,170.5" fill="#eaf3fb" stroke="#bcd3ea" stroke-width="0.35" stroke-linejoin="round"/>
<polygon points="636.6,164.0 656.8,164.0 662.1,168.3 641.9,168.3" fill="url(#samt)" stroke="#bcd3ea" stroke-width="0.35" stroke-linejoin="round"/>
<polygon points="641.9,168.3 662.1,168.3 662.1,174.8 641.9,174.8" fill="url(#sam)" stroke="#bcd3ea" stroke-width="0.35" stroke-linejoin="round"/>
<polygon points="642.5,153.2 645.4,155.8 645.4,164.0 642.5,161.5" fill="#eaf3fb" stroke="#bcd3ea" stroke-width="0.35" stroke-linejoin="round"/>
<polygon points="642.5,153.2 652.8,153.2 655.8,155.8 645.4,155.8" fill="url(#samt)" stroke="#bcd3ea" stroke-width="0.35" stroke-linejoin="round"/>
<polygon points="645.4,155.8 655.8,155.8 655.8,164.0 645.4,164.0" fill="url(#sam)" stroke="#bcd3ea" stroke-width="0.35" stroke-linejoin="round"/>
<polygon points="636.6,142.5 641.9,146.4 641.9,152.6 636.6,148.7" fill="#eaf3fb" stroke="#bcd3ea" stroke-width="0.35" stroke-linejoin="round"/>
<polygon points="636.6,142.5 656.8,142.5 662.1,146.4 641.9,146.4" fill="url(#samt)" stroke="#bcd3ea" stroke-width="0.35" stroke-linejoin="round"/>
<polygon points="641.9,146.4 662.1,146.4 662.1,152.6 641.9,152.6" fill="url(#sam)" stroke="#bcd3ea" stroke-width="0.35" stroke-linejoin="round"/>
<polygon points="630.7,132.6 636.6,138.1 636.6,143.4 630.7,137.9" fill="#eaf3fb" stroke="#bcd3ea" stroke-width="0.35" stroke-linejoin="round"/>
<polygon points="630.7,132.6 662.1,132.6 667.9,138.1 636.6,138.1" fill="url(#samt)" stroke="#bcd3ea" stroke-width="0.35" stroke-linejoin="round"/>
<polygon points="636.6,138.1 667.9,138.1 667.9,143.4 636.6,143.4" fill="url(#sam)" stroke="#bcd3ea" stroke-width="0.35" stroke-linejoin="round"/>
<polygon points="620.5,120.5 630.7,129.7 630.7,132.3 620.5,123.0" fill="#eaf3fb" stroke="#bcd3ea" stroke-width="0.35" stroke-linejoin="round"/>
<polygon points="620.5,120.5 661.7,120.5 671.9,129.7 630.7,129.7" fill="url(#samt)" stroke="#bcd3ea" stroke-width="0.35" stroke-linejoin="round"/>
<polygon points="630.7,129.7 671.9,129.7 671.9,132.3 630.7,132.3" fill="url(#sam)" stroke="#bcd3ea" stroke-width="0.35" stroke-linejoin="round"/>
<text x="607.5" y="160.5" font-size="9" font-weight="700" fill="#000" stroke="#000" stroke-width="0.15" stroke-linejoin="round" textLength="20.3" lengthAdjust="spacingAndGlyphs" >SAM</text>
<path d="M677.15,157.75 L683.95,157.75 M681.35,157.75 L682.83,159.51 M681.35,157.75 L682.83,155.99 M678.95,157.75 L680.04,159.05 M678.95,157.75 L680.04,156.45 M676.39,159.59 L680.63,163.83 M678.79,161.99 L678.59,164.28 M678.79,161.99 L681.08,161.79 M677.10,160.30 L676.95,161.99 M677.10,160.30 L678.79,160.15 M674.55,160.35 L674.55,167.15 M674.55,164.55 L672.79,166.03 M674.55,164.55 L676.31,166.03 M674.55,162.15 L673.25,163.24 M674.55,162.15 L675.85,163.24 M672.71,159.59 L668.47,163.83 M670.31,161.99 L668.02,161.79 M670.31,161.99 L670.51,164.28 M672.00,160.30 L670.31,160.15 M672.00,160.30 L672.15,161.99 M671.95,157.75 L665.15,157.75 M667.75,157.75 L666.27,155.99 M667.75,157.75 L666.27,159.51 M670.15,157.75 L669.06,156.45 M670.15,157.75 L669.06,159.05 M672.71,155.91 L668.47,151.67 M670.31,153.51 L670.51,151.22 M670.31,153.51 L668.02,153.71 M672.00,155.20 L672.15,153.51 M672.00,155.20 L670.31,155.35 M674.55,155.15 L674.55,148.35 M674.55,150.95 L676.31,149.47 M674.55,150.95 L672.79,149.47 M674.55,153.35 L675.85,152.26 M674.55,153.35 L673.25,152.26 M676.39,155.91 L680.63,151.67 M678.79,153.51 L681.08,153.71 M678.79,153.51 L678.59,151.22 M677.10,155.20 L678.79,155.35 M677.10,155.20 L676.95,153.51" stroke="#7fc6f0" stroke-width="0.7" fill="none" stroke-linecap="round" opacity="0.9"/>
<circle cx="674.55" cy="157.75" r="2.5" fill="#46a6e2"/>
<circle cx="674.55" cy="157.75" r="1.1" fill="#6fbdec"/>
<use href="#horse" x="610" y="204" width="69.2" height="69"/>
<svg x="610" y="204" width="69.2" height="69" viewBox="0 0 100 100" preserveAspectRatio="none"><use href="#hsil" fill="#3a6fe6" fill-opacity="0.9"/><path d="M15.2,49.5 L31.6,58.7 L46.8,48.5 L57,45.2 L67.1,45.2 M31.6,60.5 L44.3,81" stroke="#4f7ce8" stroke-width="1" fill="none"/></svg>
<path d="M616.9,205.1h1.9v1.9h-1.9zM615.2,214.0h1.9v1.9h-1.9zM651.6,203.6h1.9v1.9h-1.9zM649.9,208.7h1.9v1.9h-1.9zM655.1,212.2h1.9v1.9h-1.9zM667.4,203.6h1.9v1.9h-1.9zM677.6,229.8h1.9v1.9h-1.9zM669.1,240.3h1.9v1.9h-1.9zM676.2,242.1h1.9v1.9h-1.9zM676.2,245.6h1.9v1.9h-1.9zM672.6,249.1h1.9v1.9h-1.9zM676.2,254.5h1.9v1.9h-1.9zM611.7,252.3h1.9v1.9h-1.9zM609.9,254.5h1.9v1.9h-1.9zM609.9,262.4h1.9v1.9h-1.9zM609.9,264.8h1.9v1.9h-1.9zM611.7,266.7h1.9v1.9h-1.9zM611.7,270.0h1.9v1.9h-1.9zM674.4,267.6h1.9v1.9h-1.9zM674.4,270.0h1.9v1.9h-1.9z" fill="#ff0000"/>
<path d="M636.3,219.4h1.7v1.7h-1.7zM639.8,221.1h1.7v1.7h-1.7zM625.8,231.6h1.7v1.7h-1.7zM641.2,231.6h1.7v1.7h-1.7zM620.6,236.6h1.7v1.7h-1.7zM664.0,268.3h1.7v1.7h-1.7z" fill="#1a1aff"/>
<text x="620.2" y="280.3" font-size="8"  fill="#000" stroke="#000" stroke-width="0.38" stroke-linejoin="round" textLength="49.0" lengthAdjust="spacingAndGlyphs" >Segmentation</text>
<text x="633.2" y="289.0" font-size="8"  fill="#000" stroke="#000" stroke-width="0.38" stroke-linejoin="round" textLength="23.0" lengthAdjust="spacingAndGlyphs" >output</text>
<path d="M600.0,312.3 h11.6 M617.1,312.3 h11.6 M634.2,312.3 h11.6 M651.3,312.3 h11.6 M668.4,312.3 h11.6 M685.5,312.3 h11.6 M594.9,429.8 h11.4 M612.0,429.8 h11.4 M629.1,429.8 h11.4 M646.2,429.8 h11.4 M663.3,429.8 h11.4 M680.4,429.8 h11.4 M593.3,312.1 v11.5 M593.3,329.4 v11.5 M593.3,346.6 v11.5 M593.3,363.9 v11.5 M593.3,381.1 v11.5 M593.3,398.4 v11.5 M593.3,415.6 v11.5 M697.1,316.9 v11.3 M697.1,334.0 v11.3 M697.1,351.1 v11.3 M697.1,368.2 v11.3 M697.1,385.3 v11.3 M697.1,402.4 v11.3 M697.1,419.5 v10.9" stroke="#1f2d72" stroke-width="1.7" fill="none"/>
<use href="#act" x="607.9" y="325.3" width="20" height="20"/>
<text x="640.9" y="333.3" font-size="9" font-weight="700" fill="#000" stroke="#000" stroke-width="0.15" stroke-linejoin="round" textLength="35.8" lengthAdjust="spacingAndGlyphs" >Activate</text>
<text x="640.9" y="344.4" font-size="9" font-weight="700" fill="#000" stroke="#000" stroke-width="0.15" stroke-linejoin="round" textLength="36.9" lengthAdjust="spacingAndGlyphs" >prompts</text>
<path d="M607.2,370.5 L623.1,370.5" stroke="#543e72" stroke-width="1.1" fill="none"/>
<path d="M630.2,370.5 L623.1,374.2 L623.1,366.8Z" fill="#543e72"/>
<text x="640.9" y="368.2" font-size="9" font-weight="700" fill="#000" stroke="#000" stroke-width="0.15" stroke-linejoin="round" textLength="36.3" lengthAdjust="spacingAndGlyphs" >Training</text>
<text x="640.9" y="378.8" font-size="9" font-weight="700" fill="#000" stroke="#000" stroke-width="0.15" stroke-linejoin="round" textLength="27.1" lengthAdjust="spacingAndGlyphs" >Phase</text>
<path d="M607.2,406.7 L623.1,406.7" stroke="#61753a" stroke-width="1.1" fill="none"/>
<path d="M630.2,406.7 L623.1,410.4 L623.1,403.0Z" fill="#61753a"/>
<text x="640.9" y="404.4" font-size="9" font-weight="700" fill="#000" stroke="#000" stroke-width="0.15" stroke-linejoin="round" textLength="41.0" lengthAdjust="spacingAndGlyphs" >Inference</text>
<text x="640.9" y="415.4" font-size="9" font-weight="700" fill="#000" stroke="#000" stroke-width="0.15" stroke-linejoin="round" textLength="27.1" lengthAdjust="spacingAndGlyphs" >Phase</text>
</svg></body></html>
